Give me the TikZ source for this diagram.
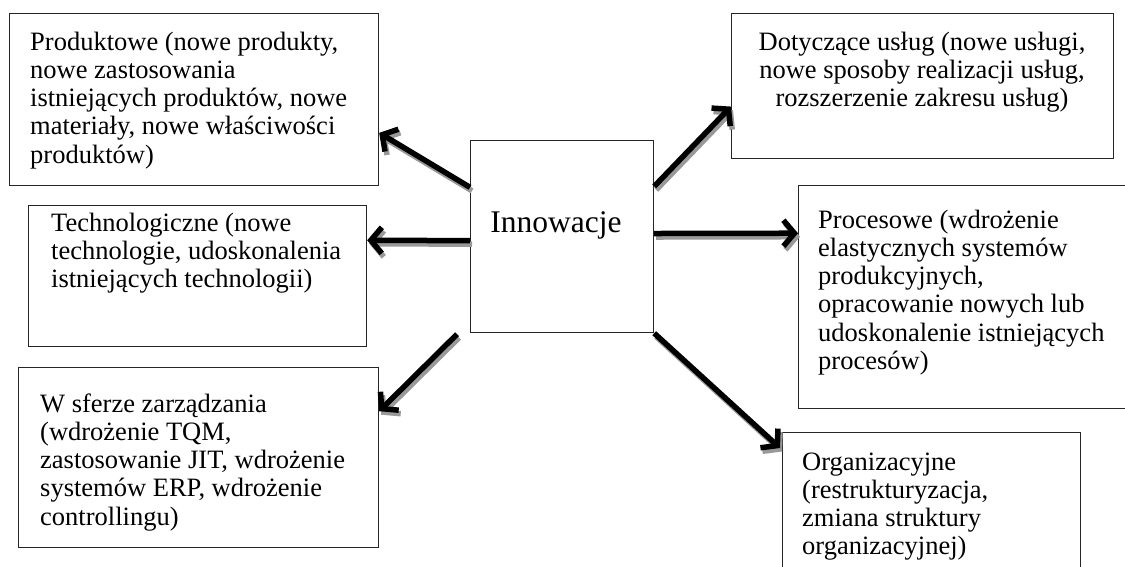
\documentclass[tikz,border=0pt]{standalone}
\usepackage{fontspec}
\setmainfont{Liberation Serif}
\usetikzlibrary{arrows.meta,calc}
\newcommand\innoarrow[2]{%
  \draw[arr, draw=black!40, transform canvas={shift={(2pt,-3.5pt)}}] #1 -- #2;
  \draw[arr] #1 -- #2;}
\begin{document}
\begin{tikzpicture}[x=1pt,y=-1pt,
  boxst/.style={draw=black!85, line width=1.2pt, inner sep=0pt, anchor=north west},
  txt/.style={inner sep=0pt, anchor=base west, align=left, font=\fontsize{26.5}{28.3}\selectfont},
  arr/.style={line width=5.5pt, -{Straight Barb[length=11pt,width=26pt]}}
]
\useasboundingbox (0,0) rectangle (1125,566);
\clip (0,0) rectangle (1125,566);
\fill[white] (0,0) rectangle (1125,566);

% boxes
\node[boxst, minimum width=369pt, minimum height=172pt] (prod) at (9,13) {};
\node[boxst, minimum width=338pt, minimum height=141pt] (tech) at (28,205) {};
\node[boxst, minimum width=360pt, minimum height=180pt] (zarz) at (18,367) {};
\node[boxst, minimum width=183pt, minimum height=192pt] (inno) at (470,140) {};
\node[boxst, minimum width=382pt, minimum height=145pt] (usl) at (731,13) {};
\node[boxst, minimum width=360pt, minimum height=223pt] (proc) at (798,185) {};
\node[boxst, minimum width=298pt, minimum height=180pt] (org) at (782,432) {};

% texts (base = baseline of last line)
\node[txt] (prodt) at (30,163.2) {Produktowe (nowe produkty,\\nowe zastosowania\\istniejących produktów, nowe\\materiały, nowe właściwości\\produktów)};
\node[txt] (techt) at (51,287.6) {Technologiczne (nowe\\technologie, udoskonalenia\\istniejących technologii)};
\node[txt] (zarzt) at (40,525.2) {W sferze zarządzania\\(wdrożenie TQM,\\zastosowanie JIT, wdrożenie\\systemów ERP, wdrożenie\\controllingu)};
\node[txt, anchor=base, align=center] (uslt) at (922,106.6) {Dotyczące usług (nowe usługi,\\nowe sposoby realizacji usług,\\rozszerzenie zakresu usług)};
\node[txt] (proct) at (818,369.5) {Procesowe (wdrożenie\\elastycznych systemów\\produkcyjnych,\\opracowanie nowych lub\\udoskonalenie istniejących\\procesów)};
\node[txt] (orgt) at (802,554.9) {Organizacyjne\\(restrukturyzacja,\\zmiana struktury\\organizacyjnej)};
\node[inner sep=0pt, anchor=base, font=\fontsize{31.5}{36}\selectfont] (innot) at (556,232) {Innowacje};

% arrows
\innoarrow{($(inno.north west)!0.245!(inno.south west)$)}{($(prod.north east)!0.692!(prod.south east)$)}
\innoarrow{($(inno.north west)!0.521!(inno.south west)$)}{($(tech.north east)!0.248!(tech.south east)$)}
\innoarrow{($(inno.south west)+(-13,1)$)}{($(zarz.north east)!0.244!(zarz.south east)$)}
\innoarrow{($(inno.north east)!0.24!(inno.south east)$)}{($(usl.north west)!0.64!(usl.south west)$)}
\innoarrow{($(inno.north east)!0.484!(inno.south east)$)}{($(proc.north west)!0.215!(proc.south west)$)}
\innoarrow{(inno.south east)}{($(org.north west)+(-2,16)$)}
\end{tikzpicture}
\end{document}
